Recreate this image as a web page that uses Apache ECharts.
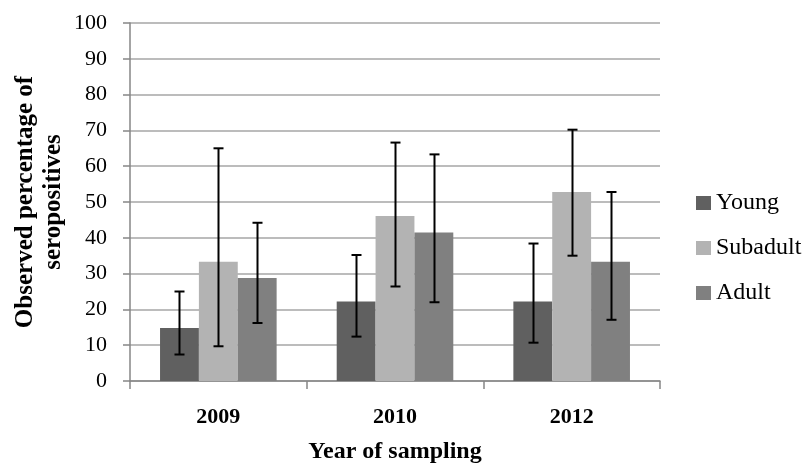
<!DOCTYPE html>
<html>
<head>
<meta charset="utf-8">
<script src="https://cdn.jsdelivr.net/npm/echarts@6/dist/echarts.min.js"></script>
<style>html,body{margin:0;padding:0;background:#fff;}#c{width:811px;height:463px;}</style>
</head>
<body>
<div id="c"></div>
<script>
var categories = ['2009', '2010', '2012'];
var seriesNames = ['Young', 'Subadult', 'Adult'];
var young = [14.8, 22.2, 22.2];
var subadult = [33.3, 46.1, 52.8];
var adult = [28.8, 41.5, 33.3];
var youngLow = [7.4, 12.4, 10.7];
var youngHigh = [25.0, 35.2, 38.4];
var subadultLow = [9.7, 26.4, 35.0];
var subadultHigh = [65.0, 66.6, 70.2];
var adultLow = [16.2, 22.0, 17.1];
var adultHigh = [44.2, 63.3, 52.8];
var colors = ['#606060', '#b3b3b3', '#808080'];

var FONT = '"Liberation Serif", "Times New Roman", serif';
var GAP = 0.34;
var values = [young, subadult, adult];
var lows = [youngLow, subadultLow, adultLow];
var highs = [youngHigh, subadultHigh, adultHigh];

function makeErr(k) {
  return {
    type: 'custom',
    name: seriesNames[k] + ' error',
    z: 10,
    silent: true,
    data: categories.map(function (c, i) { return [i, lows[k][i], highs[k][i]]; }),
    encode: { x: 0, y: [1, 2] },
    renderItem: function (params, api) {
      var ci = api.value(0);
      var band = api.size([1, 0])[0];
      var group = band * (1 - GAP);
      var bw = group / 3;
      var base = api.coord([ci, 0]);
      var x = Math.round(base[0] - group / 2 + bw * (k + 0.5)) + 0.5;
      var lo = api.coord([ci, api.value(1)])[1];
      var hi = api.coord([ci, api.value(2)])[1];
      var hw = 5;
      var st = { stroke: '#000', lineWidth: 2 };
      return {
        type: 'group',
        children: [
          { type: 'line', shape: { x1: x, y1: hi, x2: x, y2: lo }, style: st },
          { type: 'line', shape: { x1: x - hw, y1: hi, x2: x + hw, y2: hi }, style: st },
          { type: 'line', shape: { x1: x - hw, y1: lo, x2: x + hw, y2: lo }, style: st }
        ]
      };
    }
  };
}

var series = [];
for (var k = 0; k < 3; k++) {
  series.push({
    type: 'bar',
    name: seriesNames[k],
    data: values[k],
    barGap: '0%',
    barCategoryGap: (GAP * 100) + '%',
    itemStyle: { color: colors[k] },
    emphasis: { disabled: true }
  });
}
for (var k2 = 0; k2 < 3; k2++) series.push(makeErr(k2));

var chart = echarts.init(document.getElementById('c'), null, { renderer: 'canvas' });
chart.setOption({
  animation: false,
  backgroundColor: '#fff',
  grid: { left: 130, right: 151, top: 23, bottom: 82, containLabel: false, outerBoundsMode: 'none' },
  legend: {
    orient: 'vertical',
    left: 691,
    top: 186,
    itemWidth: 15,
    itemHeight: 14,
    itemGap: 21,
    icon: 'rect',
    data: seriesNames,
    textStyle: { fontFamily: FONT, fontSize: 24, color: '#000', lineHeight: 22 }
  },
  xAxis: {
    type: 'category',
    data: categories,
    name: 'Year of sampling',
    nameLocation: 'middle',
    nameGap: 59,
    nameMoveOverlap: false,
    nameTextStyle: { fontFamily: FONT, fontSize: 24, fontWeight: 'bold', color: '#000' },
    axisLine: { lineStyle: { color: '#868686', width: 1.5 } },
    axisTick: { show: true, length: 8, lineStyle: { color: '#868686', width: 1.5 } },
    axisLabel: { margin: 25, fontFamily: FONT, fontSize: 22, fontWeight: 'bold', color: '#000' }
  },
  yAxis: {
    type: 'value',
    min: 0,
    max: 100,
    interval: 10,
    name: 'Observed percentage of\nseropositives',
    nameLocation: 'middle',
    nameGap: 62,
    nameMoveOverlap: false,
    nameTextStyle: { fontFamily: FONT, fontSize: 25, fontWeight: 'bold', color: '#000', lineHeight: 28 },
    axisLine: { show: true, lineStyle: { color: '#868686', width: 1.5 } },
    axisTick: { show: true, length: 7, lineStyle: { color: '#868686', width: 1.5 } },
    axisLabel: { margin: 23, fontFamily: FONT, fontSize: 22, color: '#000' },
    splitLine: { show: true, lineStyle: { color: '#a6a6a6', width: 1.5 } }
  },
  series: series
});
</script>
</body>
</html>
